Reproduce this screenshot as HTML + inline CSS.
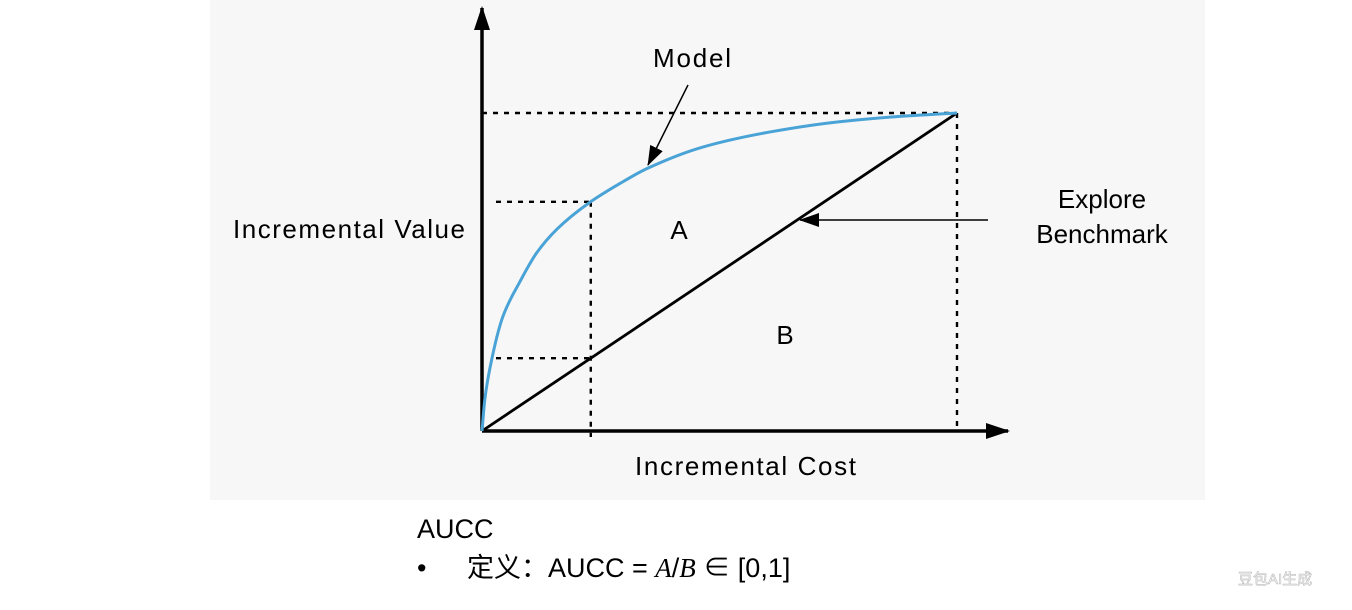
<!DOCTYPE html>
<html><head><meta charset="utf-8"><style>
body{margin:0;width:1352px;height:610px;background:#fff;overflow:hidden;font-family:"Liberation Sans","Noto Sans CJK SC",sans-serif}
svg{position:absolute;left:0;top:0}
</style></head><body>
<svg width="1352" height="610">
<defs>
<marker id="ah" markerWidth="24" markerHeight="16" refX="22" refY="8" orient="auto" markerUnits="userSpaceOnUse"><path d="M0,0 L24,8 L0,16 Z" fill="#000"/></marker>
<marker id="ahs" markerWidth="20" markerHeight="14" refX="19" refY="7" orient="auto" markerUnits="userSpaceOnUse"><path d="M0,0 L20,7 L0,14 Z" fill="#000"/></marker>
</defs>
<rect x="210" y="0" width="995" height="500" fill="#f7f7f7"/>
<g id="plot"></g>
<text x="692" y="67" font-size="26" text-anchor="middle" textLength="78">Model</text>
<text x="233" y="238" font-size="26" textLength="232">Incremental Value</text>
<text x="1102" y="208" font-size="26" text-anchor="middle">Explore</text>
<text x="1102" y="243" font-size="26" text-anchor="middle">Benchmark</text>
<text x="679" y="239" font-size="26" text-anchor="middle">A</text>
<text x="785" y="344" font-size="26" text-anchor="middle">B</text>
<text x="635" y="475" font-size="26" textLength="221">Incremental Cost</text>
<text x="417" y="538" font-size="27">AUCC</text>
<text x="417" y="577" font-size="27">•<tspan x="467">定义：AUCC = </tspan><tspan font-family="Liberation Serif" font-style="italic">A</tspan>/<tspan font-family="Liberation Serif" font-style="italic">B</tspan> ∈ [0,1]</text>
<text x="1238" y="584" font-size="15" fill="#fff" stroke="#bbb" stroke-width="0.6">豆包AI生成</text>
</svg>
<script>
const costVals=[0,0.006,0.017,0.044,0.08,0.115,0.158,0.225,0.29,0.347,0.465,0.605,0.75,0.876,1];
const modelVals=[0,0.1,0.2,0.36,0.47,0.56,0.635,0.717,0.778,0.825,0.893,0.94,0.972,0.989,1];
const benchmarkVals=[0,1];
const markCost=[0.229];
const ox=482,oy=431,W=475,H=318;
const sx=v=>ox+v*W, sy=v=>oy-v*H;
const g=document.getElementById('plot');
const NS='http://www.w3.org/2000/svg';
function mk(t,a){const e=document.createElementNS(NS,t);for(const k in a)e.setAttribute(k,a[k]);g.appendChild(e);return e;}
function interp(x){for(let i=1;i<costVals.length;i++){if(x<=costVals[i]){const t=(x-costVals[i-1])/(costVals[i]-costVals[i-1]);return modelVals[i-1]+t*(modelVals[i]-modelVals[i-1]);}}return modelVals[modelVals.length-1];}
const dash={stroke:'#000','stroke-width':2.4,'stroke-dasharray':'5,6',fill:'none'};
let e=mk('line',Object.assign({x1:sx(0),y1:sy(1),x2:sx(1),y2:sy(1)},dash));


e=mk('line',Object.assign({x1:sx(1),y1:sy(1),x2:sx(1),y2:oy},dash));


const mc=markCost[0],my=interp(mc);
e=mk('line',Object.assign({x1:ox+14,y1:sy(my),x2:sx(mc),y2:sy(my)},dash));


e=mk('line',Object.assign({x1:ox+14,y1:sy(mc),x2:sx(mc),y2:sy(mc)},dash));


e=mk('line',Object.assign({x1:sx(mc),y1:sy(my),x2:sx(mc),y2:oy+6},dash));


e=mk('line',{x1:ox,y1:oy,x2:ox,y2:8,stroke:'#000','stroke-width':3.5,'marker-end':'url(#ah)'});


e=mk('line',{x1:ox,y1:oy,x2:1008,y2:oy,stroke:'#000','stroke-width':3.5,'marker-end':'url(#ah)'});


e=mk('line',{x1:sx(0),y1:sy(benchmarkVals[0]),x2:sx(1),y2:sy(benchmarkVals[1]),stroke:'#000','stroke-width':2.8});


// monotone cubic (Fritsch-Carlson) in pixel space
const X=costVals.map(sx),Y=modelVals.map(sy),n=X.length;
const dl=[],m=[];
for(let i=0;i<n-1;i++)dl.push((Y[i+1]-Y[i])/(X[i+1]-X[i]));
m[0]=dl[0];m[n-1]=dl[n-2];
for(let i=1;i<n-1;i++){if(dl[i-1]*dl[i]<=0)m[i]=0;else{const w1=2*(X[i+1]-X[i])+(X[i]-X[i-1]),w2=(X[i+1]-X[i])+2*(X[i]-X[i-1]);m[i]=(w1+w2)/(w1/dl[i-1]+w2/dl[i]);}}
m[0]=Math.max(m[0],-60);
let d='M'+X[0]+','+Y[0];
for(let i=0;i<n-1;i++){const h=(X[i+1]-X[i])/3;d+=' C'+(X[i]+h)+','+(Y[i]+m[i]*h)+' '+(X[i+1]-h)+','+(Y[i+1]-m[i+1]*h)+' '+X[i+1]+','+Y[i+1];}
e=mk('path',{d:d,stroke:'#4aa3d6','stroke-width':3,fill:'none'});


e=mk('line',{x1:688,y1:85,x2:648,y2:165,stroke:'#000','stroke-width':1.5,'marker-end':'url(#ahs)'});


e=mk('line',{x1:988,y1:220,x2:800,y2:220,stroke:'#000','stroke-width':1.5,'marker-end':'url(#ahs)'});


</script>
</body></html>
